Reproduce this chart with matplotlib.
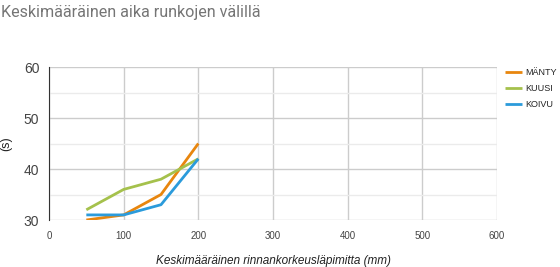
import matplotlib.pyplot as plt
from matplotlib.ticker import MultipleLocator

plt.rcParams['font.family'] = ['Liberation Sans', 'DejaVu Sans']

x = [50, 100, 150, 200]
manty = [30, 31, 35, 45]
kuusi = [32, 36, 38, 42]
koivu = [31, 31, 33, 42]
names = ["MÄNTY", "KUUSI", "KOIVU"]
colors = ["#E8860E", "#A5C14C", "#2B9BDB"]

fig = plt.figure(figsize=(5.6, 2.67), dpi=100)
ax = fig.add_axes([0.0875, 0.176, 0.8, 0.573])

for ys, name, c in zip([manty, kuusi, koivu], names, colors):
    ax.plot(x, ys, color=c, lw=2, label=name, solid_capstyle="butt")

ax.set_xlim(0, 600)
ax.set_ylim(30, 60)
ax.xaxis.set_major_locator(MultipleLocator(100))
ax.yaxis.set_major_locator(MultipleLocator(10))
ax.yaxis.set_minor_locator(MultipleLocator(5))
ax.grid(which="major", color="#cccccc", lw=1)
ax.grid(which="minor", axis="y", color="#ebebeb", lw=1)
ax.set_axisbelow(True)
for s in ["top", "right", "bottom"]:
    ax.spines[s].set_visible(False)
ax.spines["left"].set_color("#333333")
ax.tick_params(which="both", length=0)
ax.tick_params(axis="x", labelsize=7, labelcolor="#444444", pad=8)
ax.tick_params(axis="y", labelsize=10, labelcolor="#444444", pad=7)

ax.set_ylabel("(s)", fontsize=9, color="#222222", labelpad=8)
ax.set_xlabel("Keskimääräinen rinnankorkeusläpimitta (mm)", fontsize=8.5,
              style="italic", color="#222222", labelpad=10)

fig.text(0.002, 0.955, "Keskimääräinen aika runkojen välillä", fontsize=11.6,
         color="#757575", va="center", ha="left", family="Roboto")

ax.legend(loc="upper left", bbox_to_anchor=(1.0, 1.045), frameon=False,
          fontsize=6.5, handlelength=1.9, handletextpad=0.3, labelspacing=0.75,
          labelcolor="#222222")

fig.savefig("out.png", dpi=100)
